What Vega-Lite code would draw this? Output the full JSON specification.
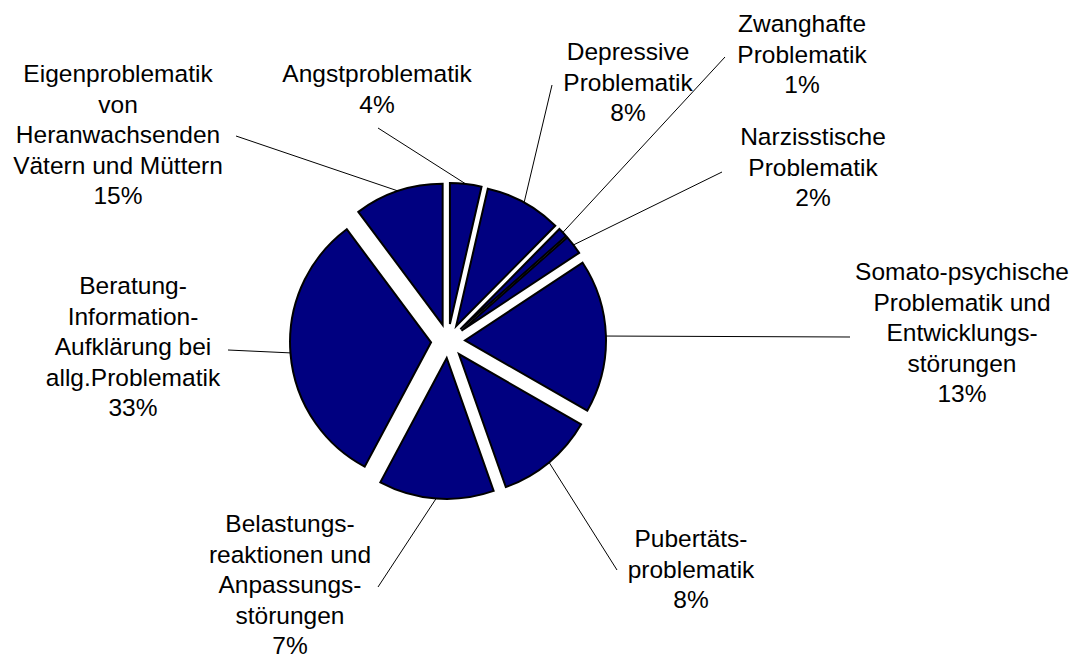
{
  "$schema": "https://vega.github.io/schema/vega-lite/v6.json",
  "width": 896,
  "height": 642,
  "autosize": "none",
  "padding": {"left": 0, "top": 20, "right": 182, "bottom": 0},
  "background": "white",
  "config": {"view": {"stroke": null}},
  "data": {
    "values": [
      {"idx": 0, "category": "Angstproblematik", "share": 3.6, "pct": 4, "label": ["Angstproblematik", "4%"]},
      {"idx": 1, "category": "Depressive Problematik", "share": 8.8, "pct": 8, "label": ["Depressive", "Problematik", "8%"]},
      {"idx": 2, "category": "Zwanghafte Problematik", "share": 1.1, "pct": 1, "label": ["Zwanghafte", "Problematik", "1%"]},
      {"idx": 3, "category": "Narzisstische Problematik", "share": 2.2, "pct": 2, "label": ["Narzisstische", "Problematik", "2%"]},
      {"idx": 4, "category": "Somato-psychische Problematik und Entwicklungsstörungen", "share": 17.6, "pct": 13, "label": ["Somato-psychische", "Problematik und", "Entwicklungs-", "störungen", "13%"]},
      {"idx": 5, "category": "Pubertätsproblematik", "share": 11.3, "pct": 8, "label": ["Pubertäts-", "problematik", "8%"]},
      {"idx": 6, "category": "Belastungsreaktionen und Anpassungsstörungen", "share": 13.2, "pct": 7, "label": ["Belastungs-", "reaktionen und", "Anpassungs-", "störungen", "7%"]},
      {"idx": 7, "category": "Beratung-Information-Aufklärung bei allg.Problematik", "share": 32.0, "pct": 33, "label": ["Beratung-", "Information-", "Aufklärung bei", "allg.Problematik", "33%"]},
      {"idx": 8, "category": "Eigenproblematik von Heranwachsenden Vätern und Müttern", "share": 10.2, "pct": 15, "label": ["Eigenproblematik", "von", "Heranwachsenden", "Vätern und Müttern", "15%"]}
    ]
  },
  "layer": [
    {
      "mark": {
        "type": "arc",
        "radius": 141,
        "color": "#000080",
        "stroke": "#000000",
        "strokeWidth": 2,
        "xOffset": {"expr": "17*sin(scale('theta', (datum.share_start + datum.share_end)/2))"},
        "yOffset": {"expr": "-17*cos(scale('theta', (datum.share_start + datum.share_end)/2))"}
      },
      "encoding": {
        "theta": {"field": "share", "type": "quantitative", "stack": true},
        "order": {"field": "idx", "type": "quantitative"}
      }
    },
    {
      "transform": [
        {"stack": "share", "groupby": [], "sort": [{"field": "idx", "order": "ascending"}], "as": ["s0", "s1"]}
      ],
      "mark": {"type": "rule", "color": "#000000", "strokeWidth": 1},
      "encoding": {
        "x": {"field": "idx", "type": "quantitative", "axis": null,
              "scale": {"domain": [0, 1, 2, 3, 4, 5, 6, 7, 8], "range": [378, 552, 725, 722, 850, 617, 378, 228, 236], "nice": false, "zero": false}},
        "y": {"field": "idx", "type": "quantitative", "axis": null,
              "scale": {"domain": [0, 1, 2, 3, 4, 5, 6, 7, 8], "range": [108, 65, 37, 152, 317, 550, 567, 330, 116], "nice": false, "zero": false}},
        "x2": {"value": {"expr": "width/2 + 158*sin(scale('theta', (datum.s0 + datum.s1)/2))"}},
        "y2": {"value": {"expr": "height/2 - 158*cos(scale('theta', (datum.s0 + datum.s1)/2))"}}
      }
    },
    {
      "mark": {"type": "text", "font": "Liberation Sans", "fontSize": 24.5, "lineHeight": 30.5, "align": "center", "baseline": "middle", "color": "#000000"},
      "encoding": {
        "x": {"field": "idx", "type": "quantitative", "axis": null,
              "scale": {"domain": [0, 1, 2, 3, 4, 5, 6, 7, 8], "range": [377, 628, 802, 813, 962, 691, 290, 133, 118], "nice": false, "zero": false}},
        "y": {"field": "idx", "type": "quantitative", "axis": null,
              "scale": {"domain": [0, 1, 2, 3, 4, 5, 6, 7, 8], "range": [55, 33, 5, 118, 253, 520, 505, 267, 55], "nice": false, "zero": false}},
        "text": {"field": "label"}
      }
    }
  ],
  "resolve": {"scale": {"x": "independent", "y": "independent"}}
}
